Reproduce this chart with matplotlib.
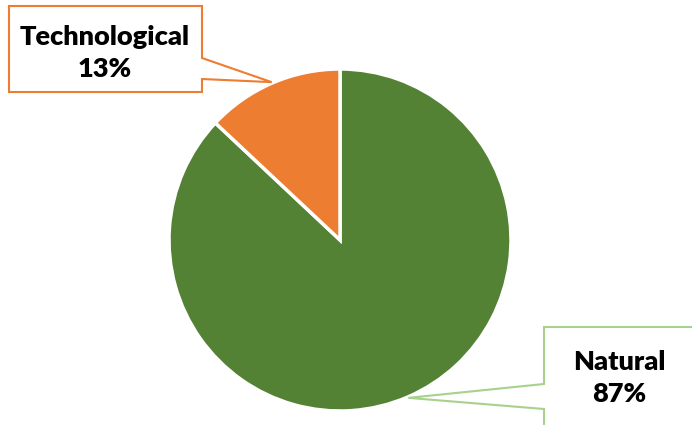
import numpy as np
import matplotlib.pyplot as plt
from matplotlib.patches import Polygon

labels = ["Natural", "Technological"]
shares = [87, 13]
colors = ["#548235", "#ED7D31"]
box_edges = ["#A9D18E", "#ED7D31"]

W, H = 692, 425
fig = plt.figure(figsize=(W / 100, H / 100), dpi=100)
ax = fig.add_axes([0, 0, 1, 1])

cx, cy, r = 340, H - 240, 171
wedges, _ = ax.pie(shares, colors=colors, startangle=90, counterclock=False,
                   center=(cx, cy), radius=r, frame=True,
                   wedgeprops=dict(edgecolor="white", linewidth=2.5))
ax.set_xlim(0, W)
ax.set_ylim(0, H)
ax.set_aspect("equal")
ax.axis("off")


def py(y):
    return H - y


# callout boxes (pixel layout from top-left), pointer tip at wedge mid-angle
for w, lab, val, ec in zip(wedges, labels, shares, box_edges):
    mid = np.deg2rad((w.theta1 + w.theta2) / 2)
    tip = (cx + (r + 1) * np.cos(mid), cy + (r + 1) * np.sin(mid))
    if lab == "Technological":
        pts = [(9, py(6)), (202, py(6)), (202, py(58)), tip,
               (202, py(79)), (202, py(92)), (9, py(92))]
        tx, ty = 105, 53
    else:
        pts = [(544, py(327)), (720, py(327)), (720, py(440)), (544, py(440)),
               (544, py(409)), tip, (544, py(384))]
        tx, ty = 619, 378
    ax.add_patch(Polygon(pts, closed=True, facecolor="white", edgecolor=ec,
                         linewidth=1.5, zorder=3))
    ax.text(tx, py(ty), f"{lab}\n{val}%", ha="center", va="center",
            fontsize=19.5, fontweight="heavy", family="Lato", linespacing=1.4,
            zorder=4)

fig.savefig("out.png", dpi=100)
